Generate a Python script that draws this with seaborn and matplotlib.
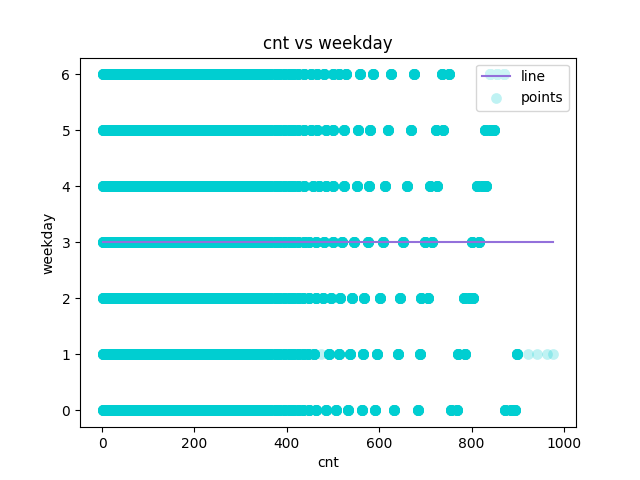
import numpy as np
import pandas as pd
import matplotlib
matplotlib.use("Agg")
import matplotlib.pyplot as plt
import seaborn as sns

# Dense low range of counts observed on every weekday row
low_cnt = [1, 8, 16, 24, 32, 40, 48, 56, 64, 72, 80, 88, 96, 104, 112, 120,
           128, 136, 144, 152, 160, 168, 176, 184, 192, 200, 208, 216, 224,
           232, 240, 248, 256, 264, 272, 280, 288, 296, 304, 312, 320, 328,
           337, 346, 355, 364, 374, 384, 394, 404, 414, 424]

# Upper counts per weekday (solid-looking points)
high_cnt_0 = [434, 448, 464, 484, 506, 533, 562, 590, 632, 683, 755, 768, 872, 885, 893]
high_cnt_1 = [434, 445, 459, 492, 513, 537, 565, 594, 640, 688, 770, 785, 899]
high_cnt_2 = [434, 448, 463, 479, 495, 515, 541, 568, 601, 645, 690, 705, 783, 795, 803]
high_cnt_3 = [438, 448, 463, 481, 499, 519, 546, 575, 607, 652, 700, 715, 800, 815]
high_cnt_4 = [438, 456, 470, 484, 499, 524, 551, 578, 613, 659, 710, 725, 812, 822, 830]
high_cnt_5 = [438, 452, 466, 484, 499, 524, 553, 580, 618, 668, 722, 738, 828, 840, 848]
high_cnt_6 = [438, 452, 466, 481, 499, 513, 528, 558, 587, 625, 675, 735, 750, 840, 855, 870]

# Sparse single records (faint points)
faint_weekday = [1, 1, 1, 1, 1]
faint_cnt = [474, 921, 942, 964, 975]

# Fitted line
line_cnt = [1, 977]
line_weekday = [3.0, 3.0]

records_per_solid_point = 20

highs = [high_cnt_0, high_cnt_1, high_cnt_2, high_cnt_3, high_cnt_4, high_cnt_5, high_cnt_6]
rows = []
for wd, hi in enumerate(highs):
    vals = low_cnt + hi
    for v in vals:
        rows.extend([(v, wd)] * records_per_solid_point)
for v, wd in zip(faint_cnt, faint_weekday):
    rows.append((v, wd))
df = pd.DataFrame(rows, columns=["cnt", "weekday"])

fig, ax = plt.subplots(figsize=(6.4, 4.8), dpi=100)
sns.lineplot(x=line_cnt, y=line_weekday, color="mediumpurple", label="line", ax=ax)
sns.scatterplot(data=df, x="cnt", y="weekday", color="darkturquoise", alpha=0.25,
                s=60, linewidth=0, label="points", ax=ax)
ax.set_title("cnt vs weekday")
ax.set_xlabel("cnt")
ax.set_ylabel("weekday")
ax.legend(loc="upper right")
fig.savefig("out.png", dpi=100)
